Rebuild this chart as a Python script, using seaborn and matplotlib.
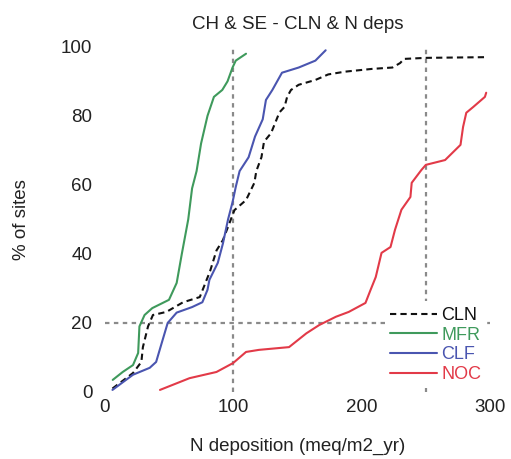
import matplotlib
matplotlib.use("Agg")
import matplotlib.pyplot as plt
import seaborn as sns
import pandas as pd

# Cumulative share of sites (%) against N deposition for each group
cln_x = [6, 22, 28.5, 29.7, 33.7, 37.5, 48, 61, 74, 82, 87, 92, 101, 110, 116.5, 118, 122, 124,
         129.5, 136, 140, 142, 145, 151, 164, 174, 187, 208, 224, 230, 233, 250, 296]
cln_y = [1, 5.5, 8.7, 13, 19, 22.3, 23.2, 26, 27.5, 35, 41, 44, 52.7, 55.6, 60.6, 64, 68, 72.5,
         75, 81, 82.6, 85.5, 87.5, 89, 90.4, 92, 92.8, 93.6, 94, 95.3, 96.5, 96.8, 97]

mfr_x = [6.2, 14, 22, 26, 27, 31, 37, 50, 56, 60, 65, 68, 71.5, 75, 80, 85, 91.5, 95.6, 99.5, 102, 110]
mfr_y = [3.5, 5.8, 7.8, 11.3, 19, 22.3, 24.3, 26.7, 31.6, 40, 50, 59, 64, 72, 80, 85.5, 87.5, 90, 94, 96, 98]

clf_x = [6, 22, 35, 40, 45, 49, 56, 68, 76, 80, 81.5, 88, 92, 96, 99.5, 102, 105, 112, 117, 123,
         125.5, 130.5, 138, 151, 164, 172]
clf_y = [0.6, 5, 7, 8.7, 15, 20, 23, 24.6, 26, 29.6, 32.5, 37.4, 43, 50, 55, 59.4, 64, 68, 74, 79,
         84.6, 87.5, 92.5, 94, 96, 99]

noc_x = [43, 66, 87, 100, 110, 120, 143.5, 157, 167, 180, 190, 203, 207, 211, 215.5, 222.5, 226,
         231, 238, 239, 246.5, 250, 265, 277, 279, 281.5, 287, 296, 297]
noc_y = [0.6, 4, 5.8, 8.4, 11.6, 12.2, 13, 17, 19.4, 21.8, 23.2, 25.8, 29.6, 33.3, 40.3, 42, 47,
         52.8, 56.5, 60.6, 64.3, 65.8, 67.2, 71.6, 76.8, 80.9, 82.6, 85.5, 86.7]

groups = ["CLN", "MFR", "CLF", "NOC"]
colors = {"CLN": "#111111", "MFR": "#3f9a5c", "CLF": "#4a55b0", "NOC": "#e23a48"}

x_ticks = [0, 100, 200, 300]
y_ticks = [0, 20, 40, 60, 80, 100]

frames = []
for name, xs, ys in [("CLN", cln_x, cln_y), ("MFR", mfr_x, mfr_y),
                     ("CLF", clf_x, clf_y), ("NOC", noc_x, noc_y)]:
    frames.append(pd.DataFrame({"dep": xs, "pct": ys, "group": name,
                                "order": range(len(xs))}))
df = pd.concat(frames, ignore_index=True)

sns.set_theme(style="white")
plt.rcParams["font.family"] = ["Liberation Sans", "DejaVu Sans"]

fig = plt.figure(figsize=(5.11, 4.59), dpi=100)
ax = fig.add_axes([0.205, 0.146, 0.754, 0.752])

# Reference guides
guide = dict(color="#8a8a8a", linewidth=1.6, linestyle=(0, (2, 2)), zorder=1)
ax.plot([100, 100], [0, 100], **guide)
ax.plot([250, 250], [0, 100], **guide)
ax.plot([0, 300], [20, 20], **guide)

for name in groups:
    sub = df[df["group"] == name]
    sns.lineplot(data=sub, x="dep", y="pct", sort=False, estimator=None, ax=ax,
                 color=colors[name], linewidth=1.5, label=name, zorder=3,
                 linestyle=(0, (3, 2)) if name == "CLN" else "-")

ax.set_xlim(0, 300)
ax.set_ylim(0, 100)
ax.set_xticks(x_ticks)
ax.set_yticks(y_ticks)
ax.tick_params(axis="both", length=0, labelsize=13.5, colors="#222222")
ax.tick_params(axis="x", pad=5)
ax.tick_params(axis="y", pad=9)
for s in ax.spines.values():
    s.set_visible(False)

ax.set_title("CH & SE - CLN & N deps", fontsize=13.5, pad=13, color="#222222")
ax.set_xlabel("N deposition (meq/m2_yr)", fontsize=13.5, color="#222222", labelpad=16)
ax.set_ylabel("% of sites", fontsize=13.5, color="#222222", labelpad=22)

leg = ax.legend(loc="lower right", bbox_to_anchor=(1.0, 0.0), frameon=True,
                fontsize=13, handlelength=2.6, handletextpad=0.2, labelspacing=0.15,
                borderpad=0.3, borderaxespad=0.2)
leg.get_frame().set_facecolor("white")
leg.get_frame().set_edgecolor("none")
leg.get_frame().set_alpha(1.0)
for txt, name in zip(leg.get_texts(), groups):
    txt.set_color(colors[name])

fig.savefig("out.png", dpi=100, facecolor="white")
